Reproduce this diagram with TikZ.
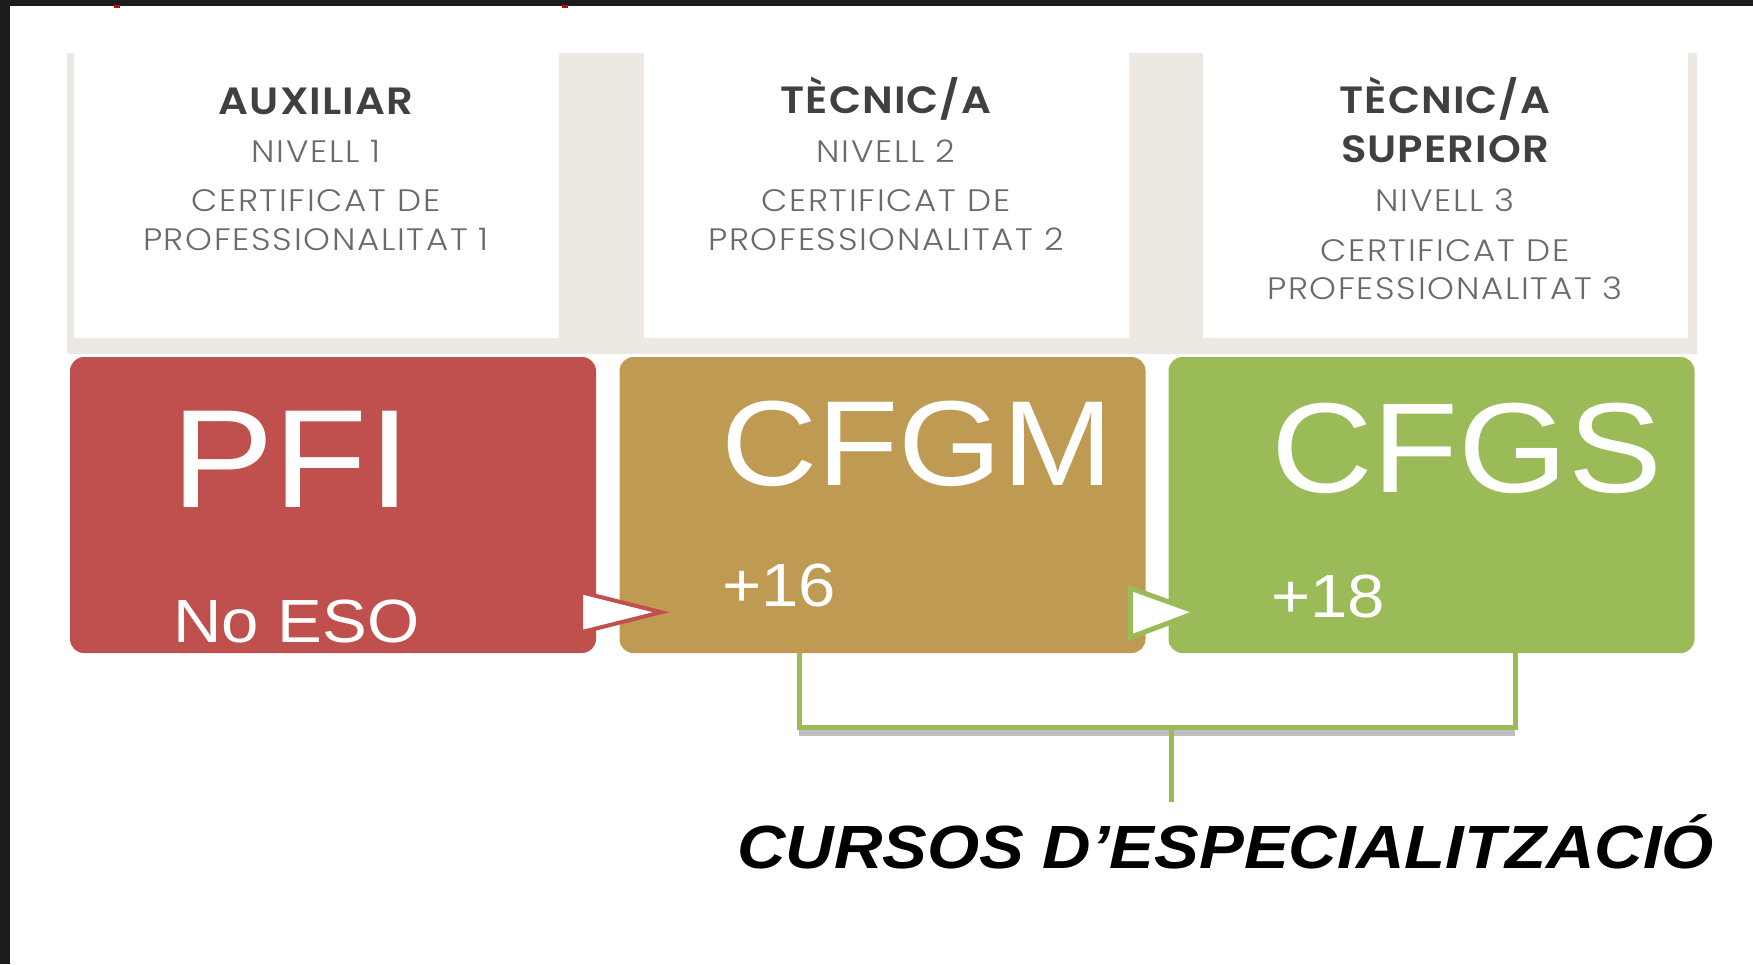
\documentclass[tikz,border=0pt]{standalone}
\usepackage{fontspec}
\setmainfont{Liberation Sans}
\IfFontExistsTF{Poppins SemiBold}{\newfontfamily\headfont[LetterSpace=2.5]{Poppins SemiBold}}{\newfontfamily\headfont[LetterSpace=2.5]{Poppins}}
\IfFontExistsTF{Poppins Light}{\newfontfamily\thinfont[LetterSpace=5]{Poppins Light}}{\newfontfamily\thinfont[LetterSpace=5]{Poppins}}
\usetikzlibrary{positioning, calc}

\definecolor{pfired}{HTML}{C0504D}
\definecolor{cfgmgold}{HTML}{BF9A52}
\definecolor{cfgsgreen}{HTML}{9BBB59}
\definecolor{panelbeige}{HTML}{EDE8E2}
\definecolor{titlegray}{HTML}{404040}
\definecolor{certgray}{HTML}{6A6A6A}
\definecolor{framedark}{HTML}{1C1C1C}

\tikzset{
  stretched/.style={xscale=1.1, inner sep=0pt},
  level/.style={stretched, anchor=base, text=titlegray, font=\headfont\fontsize{38}{38}\selectfont},
  cert/.style={stretched, anchor=base, text=certgray, font=\thinfont\fontsize{31}{31}\selectfont},
  cyclebox/.style={rounded corners=14pt, minimum width=526pt, minimum height=296pt, inner sep=0pt},
  bigname/.style={stretched, anchor=base west, text=white, font=\fontsize{140}{140}\selectfont},
  agetext/.style={stretched, anchor=base west, text=white, font=\fontsize{61}{61}\selectfont},
  arrowtri/.style={fill=white, line join=miter},
  bracket/.style={draw=cfgsgreen, line width=5pt},
}

\begin{document}
\begin{tikzpicture}[x=1pt, y=-1pt]
\useasboundingbox (0,0) rectangle (1753,964);
\fill[white] (0,0) rectangle (1753,964);
% screenshot frame
\fill[framedark] (0,0) rectangle (1753,6);
\fill[framedark] (0,0) rectangle (10,964);
\fill[red!80!black] (114,5) rectangle (120,8);
\fill[red!80!black] (562,5) rectangle (568,8);

% level panel
\fill[panelbeige] (67,53) rectangle (1697,354);
\foreach \x in {74,644,1203} {
  \fill[white] (\x,53) rectangle ++(485,285);
}
\node[level] (aux) at (316,114) {AUXILIAR};
\node[cert] (niv1) at (316,162) {NIVELL 1};
\node[cert] (cert1) at (316,211) {CERTIFICAT DE};
\node[cert] (prof1) at (316,250) {PROFESSIONALITAT 1};

\node[level] (tec) at (886,113) {TÈCNIC/A};
\node[cert] (niv2) at (886,162) {NIVELL 2};
\node[cert] (cert2) at (886,211) {CERTIFICAT DE};
\node[cert] (prof2) at (886,250) {PROFESSIONALITAT 2};

\node[level] (tecsup) at (1445,113) {TÈCNIC/A};
\node[level] (sup) at (1445,162) {SUPERIOR};
\node[cert] (niv3) at (1445,211) {NIVELL 3};
\node[cert] (cert3) at (1445,261) {CERTIFICAT DE};
\node[cert] (prof3) at (1445,299) {PROFESSIONALITAT 3};

% cycles
\node[cyclebox, fill=pfired] (pfi) at (333,505) {};
\node[cyclebox, fill=cfgmgold] (cfgm) at (882.5,505) {};
\node[cyclebox, fill=cfgsgreen] (cfgs) at (1431.5,505) {};

\node[bigname] (pfiname) at (171,507) {PFI};
\node[agetext] (noeso) at (173,642) {No ESO};
\node[bigname, font=\fontsize{121}{121}\selectfont] (cfgmname) at (721,485) {CFGM};
\node[agetext] (age16) at (722,606) {+16};
\node[bigname, font=\fontsize{128}{128}\selectfont] (cfgsname) at (1271,492) {CFGS};
\node[agetext] (age18) at (1271,617) {+18};

% arrows between cycles
\draw[arrowtri, draw=pfired, line width=4pt]
  ($(pfi.south east)+(-15,-61)$) -- ($(pfi.south east)+(-15,-21)$)
  -- ($(cfgm.south west)+(42,-41)$) -- cycle;
\draw[arrowtri, draw=cfgsgreen, line width=5pt]
  ($(cfgm.south east)+(-15,-65)$) -- ($(cfgm.south east)+(-15,-16)$)
  -- ($(cfgs.south west)+(29,-41)$) -- cycle;

% specialisation courses
\node[stretched, anchor=base west, font=\bfseries\itshape\fontsize{61}{61}\selectfont] (cursos) at (737,868) {CURSOS D’ESPECIALITZACIÓ};
\coordinate (joint) at (1171,727);
\draw[black, opacity=0.25, line width=6pt] ([xshift=-83.5pt]cfgm.south |- joint) ++(0,6) -- ++(716,0);
\draw[bracket] ([xshift=-83.5pt]cfgm.south) |- (joint) -| ([xshift=83.5pt]cfgs.south);
\draw[bracket, shorten >=12pt] (joint) -- (joint |- cursos.north);
\end{tikzpicture}
\end{document}
